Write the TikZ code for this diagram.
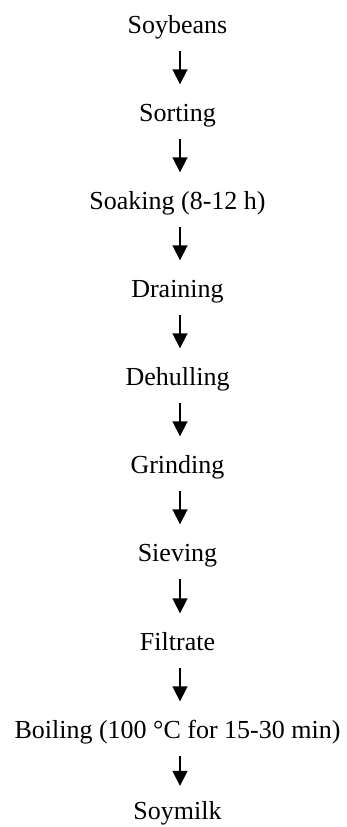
\documentclass[tikz,border=0pt]{standalone}
\usepackage{fontspec}
\setmainfont{Liberation Serif}
\usetikzlibrary{arrows.meta}
\begin{document}
\begin{tikzpicture}[x=1pt,y=1pt,
  stepnode/.style={inner sep=0pt, outer sep=0pt, anchor=base, text height=17.2pt, text depth=5.7pt,
    font=\fontsize{26}{30}\selectfont},
  flow/.style={line width=1.8pt, -{Triangle[width=15pt,length=15pt]}, shorten <=12pt, shorten >=19.5pt}]
\useasboundingbox (0,0) rectangle (346,-827);
\node[stepnode] (n1) at (177.5,-33) {Soybeans};
\node[stepnode] (n2) at (177.5,-121) {Sorting};
\node[stepnode] (n3) at (177.5,-209) {Soaking (8-12 h)};
\node[stepnode] (n4) at (177.5,-297) {Draining};
\node[stepnode] (n5) at (177.5,-385) {Dehulling};
\node[stepnode] (n6) at (177.5,-473) {Grinding};
\node[stepnode] (n7) at (177.5,-561) {Sieving};
\node[stepnode] (n8) at (177.5,-650) {Filtrate};
\node[stepnode] (n9) at (177.5,-738) {Boiling (100 °C for 15-30 min)};
\node[stepnode] (n10) at (177.5,-819) {Soymilk};
\foreach \a/\b in {n1/n2,n2/n3,n3/n4,n4/n5,n5/n6,n6/n7,n7/n8,n8/n9}
  \draw[flow] ([xshift=2.5pt]\a.south) -- ([xshift=2.5pt]\b.north);
\draw[flow, shorten >=16pt] ([xshift=2.5pt]n9.south) -- ([xshift=2.5pt]n10.north);
\end{tikzpicture}
\end{document}
